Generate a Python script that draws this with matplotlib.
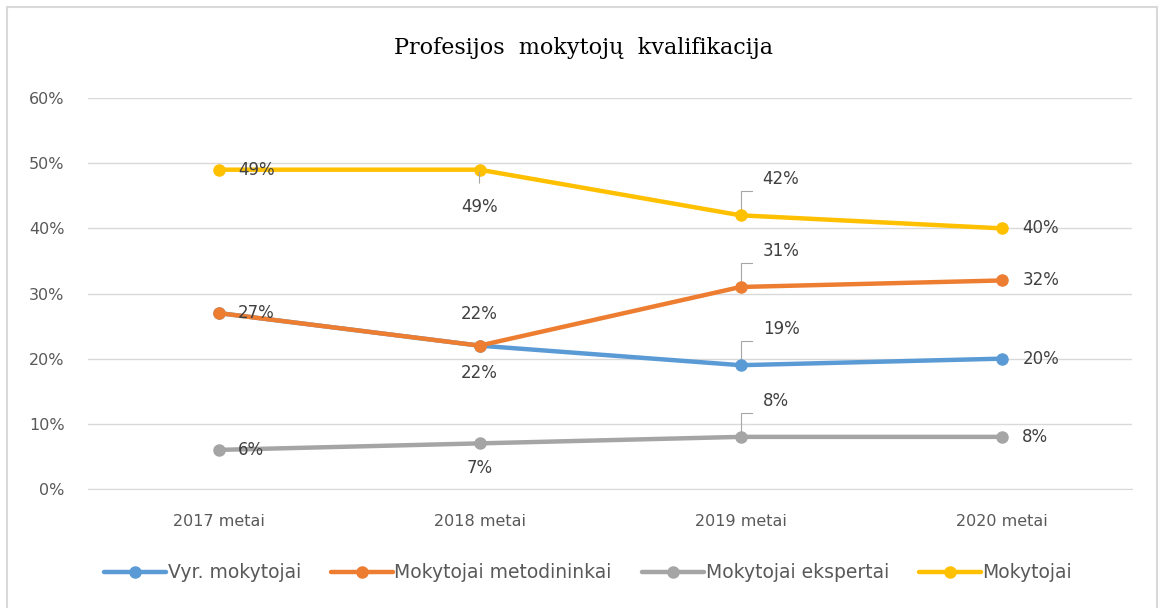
import matplotlib.pyplot as plt
from matplotlib.patches import Rectangle
from matplotlib.ticker import PercentFormatter

# duomenys
years = ["2017 metai", "2018 metai", "2019 metai", "2020 metai"]
vyr = [27, 22, 19, 20]
metodininkai = [27, 22, 31, 32]
ekspertai = [6, 7, 8, 8]
mokytojai = [49, 49, 42, 40]
series_names = ["Vyr. mokytojai", "Mokytojai metodininkai",
                "Mokytojai ekspertai", "Mokytojai"]
colors = ["#5B9BD5", "#ED7D31", "#A5A5A5", "#FFC000"]

plt.rcParams["font.family"] = ["DejaVu Sans"]
text_col = "#595959"

fig = plt.figure(figsize=(11.6, 6.08), dpi=100)
ax = fig.add_axes([88 / 1160, 1 - 489 / 608, 1044 / 1160, 391 / 608])

# rėmelis aplink visą diagramą
fig.patches.append(Rectangle((7 / 1160, -0.01), 1150 / 1160, 1 - 7 / 608 + 0.01,
                             transform=fig.transFigure, fill=False,
                             edgecolor="#D9D9D9", linewidth=1.5))

x = [i + 0.5 for i in range(len(years))]
all_series = [vyr, metodininkai, ekspertai, mokytojai]
for vals, name, c in zip(all_series, series_names, colors):
    ax.plot(x, vals, color=c, linewidth=3.2, marker="o", markersize=8,
            label=name, solid_capstyle="round", zorder=3)

ax.set_xlim(0, 4)
ax.set_ylim(0, 60)
ax.set_yticks(range(0, 61, 10))
ax.yaxis.set_major_formatter(PercentFormatter(decimals=0))
ax.set_xticks(x)
ax.set_xticklabels(years)
ax.grid(axis="y", color="#D9D9D9", linewidth=1)
ax.set_axisbelow(True)
for s in ax.spines.values():
    s.set_visible(False)
ax.spines["bottom"].set_visible(True)
ax.spines["bottom"].set_color("#D9D9D9")
ax.tick_params(length=0, labelsize=11.5, colors=text_col)
ax.tick_params(axis="x", pad=18)
ax.tick_params(axis="y", pad=17)

lab_kw = dict(fontsize=12, color="#404040", va="center", zorder=4)
lead_kw = dict(color="#A6A6A6", linewidth=0.8, zorder=2)

def put(xi, v, dx, dy, ha="left"):
    ax.annotate(f"{v}%", (x[xi], v), xytext=(dx, dy),
                textcoords="offset points", ha=ha, **lab_kw)

# 2017 - dešinėje
put(0, metodininkai[0], 14, 0)
put(0, ekspertai[0], 14, 0)
put(0, mokytojai[0], 14, 0)
# 2018 - viršuje / apačioje
put(1, mokytojai[1], 0, -27, ha="center")
ax.annotate("", (x[1], mokytojai[1]), xytext=(x[1], mokytojai[1] - 2.5),
            arrowprops=dict(arrowstyle="-", **lead_kw))
put(1, metodininkai[1], 0, 23, ha="center")
put(1, vyr[1], 0, -20, ha="center")
put(1, ekspertai[1], 0, -18, ha="center")
# 2019 - su nuorodų linijomis
for vals in (vyr, metodininkai, ekspertai, mokytojai):
    v = vals[2]
    ax.plot([x[2], x[2], x[2] + 0.045], [v, v + 3.7, v + 3.7], **lead_kw)
    put(2, v, 16, 26)
# 2020 - dešinėje
for vals in all_series:
    put(3, vals[3], 15, 0)

fig.text(583 / 1160, 1 - 48 / 608, "Profesijos  mokytojų  kvalifikacija",
         family="DejaVu Serif", fontsize=16, color="black",
         ha="center", va="center")

leg = fig.legend(loc="center", bbox_to_anchor=(588 / 1160, 1 - 573 / 608),
                 ncol=4, frameon=False, fontsize=13.5, handlelength=3.3,
                 handletextpad=0.1, columnspacing=1.6)
for t in leg.get_texts():
    t.set_color(text_col)

fig.savefig("out.png", dpi=100, facecolor="white")
